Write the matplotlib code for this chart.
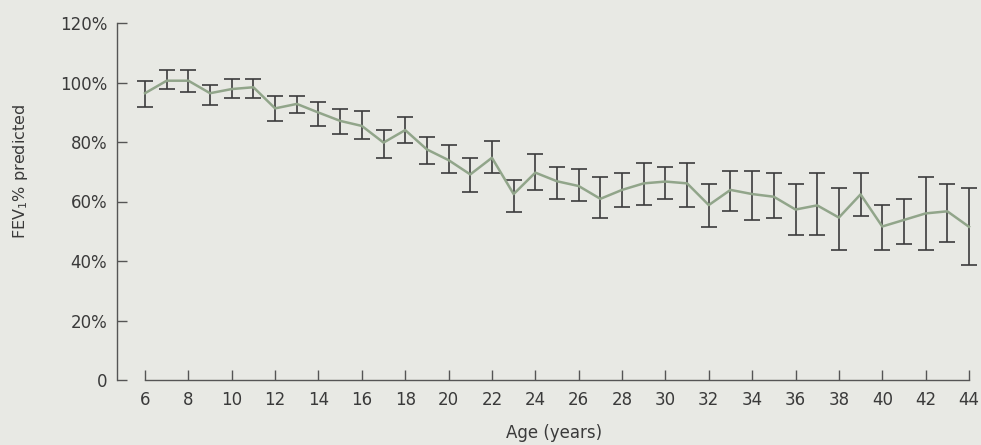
import matplotlib
matplotlib.use("Agg")
import matplotlib.pyplot as plt

ages = list(range(6, 45))
mean = [96.4, 100.6, 100.6, 96.4, 97.8, 98.4, 91.3, 92.8, 89.9, 87.1, 85.4, 79.8, 84.0, 77.5,
        73.9, 69.1, 74.7, 62.5, 69.7, 66.8, 65.2, 60.9, 63.9, 66.1, 66.7, 66.1,
        58.8, 63.9, 62.5, 61.6, 57.3, 58.7, 54.6, 62.4, 51.6, 53.8, 56.0, 56.7, 51.5]
upper = [100.6, 104.2, 104.2, 99.3, 101.2, 101.2, 95.6, 95.6, 93.4, 91.2, 90.5, 84.0, 88.4, 81.8,
         79.0, 74.6, 80.4, 67.3, 76.1, 71.7, 71.0, 68.1, 69.7, 73.1, 71.7, 73.1,
         66.0, 70.4, 70.4, 69.7, 66.0, 69.7, 64.6, 69.7, 58.8, 60.9, 68.2, 66.0, 64.6]
lower = [91.9, 97.7, 96.9, 92.6, 94.8, 94.8, 87.0, 89.7, 85.4, 82.6, 81.1, 74.7, 79.7, 72.5,
         69.7, 63.2, 69.7, 56.6, 63.9, 60.8, 60.2, 54.5, 58.0, 58.7, 60.8, 58.1,
         51.5, 56.7, 53.8, 54.5, 48.7, 48.7, 43.7, 55.2, 43.7, 45.8, 43.7, 46.5, 38.7]
yticks = [0, 20, 40, 60, 80, 100, 120]
ytick_labels = ["0", "20%", "40%", "60%", "80%", "100%", "120%"]
xticks = list(range(6, 45, 2))

bg = "#e8e9e4"
txt = "#3a3a3a"
plt.rcParams['font.family'] = ['DejaVu Sans']
plt.rcParams['mathtext.fontset'] = 'dejavusans'

fig = plt.figure(figsize=(9.81, 4.45), dpi=100, facecolor=bg)
ax = fig.add_axes([117/981, (445-380)/445, (975.5-117)/981, (380-23)/445])
ax.set_facecolor(bg)

err_lo = [m - l for m, l in zip(mean, lower)]
err_hi = [u - m for m, u in zip(mean, upper)]
ax.errorbar(ages, mean, yerr=[err_lo, err_hi], fmt='none', ecolor="#3c3c3c",
            elinewidth=1.2, capsize=6, capthick=1.2, zorder=2)
ax.plot(ages, mean, color="#91a58a", lw=1.8, zorder=3)

ax.set_xlim(6 - 28/21.68, 44.3)
ax.set_ylim(0, 120)
for s in ['top', 'right']:
    ax.spines[s].set_visible(False)
ax.spines['left'].set_bounds(0, 120)
ax.spines['bottom'].set_bounds(6, 44)
for s in ['left', 'bottom']:
    ax.spines[s].set_color("#555555")
    ax.spines[s].set_linewidth(1.0)

ax.set_yticks(yticks)
ax.set_yticklabels(ytick_labels)
ax.set_xticks(xticks)
ax.tick_params(axis='y', direction='in', length=7, width=1.0, color="#555555",
               labelsize=12, labelcolor=txt, pad=7)
ax.tick_params(axis='x', which='major', direction='in', length=7, width=1.0, color="#555555",
               labelsize=12, labelcolor=txt, pad=8)

fig.text(21/981, 1 - 171/445, "FEV$_1$% predicted", rotation=90, ha='center', va='center',
         fontsize=11.5, color=txt)
fig.text(554/981, 1 - 433/445, "Age (years)", ha='center', va='center', fontsize=12, color=txt)

fig.savefig("out.png", dpi=100, facecolor=bg)
